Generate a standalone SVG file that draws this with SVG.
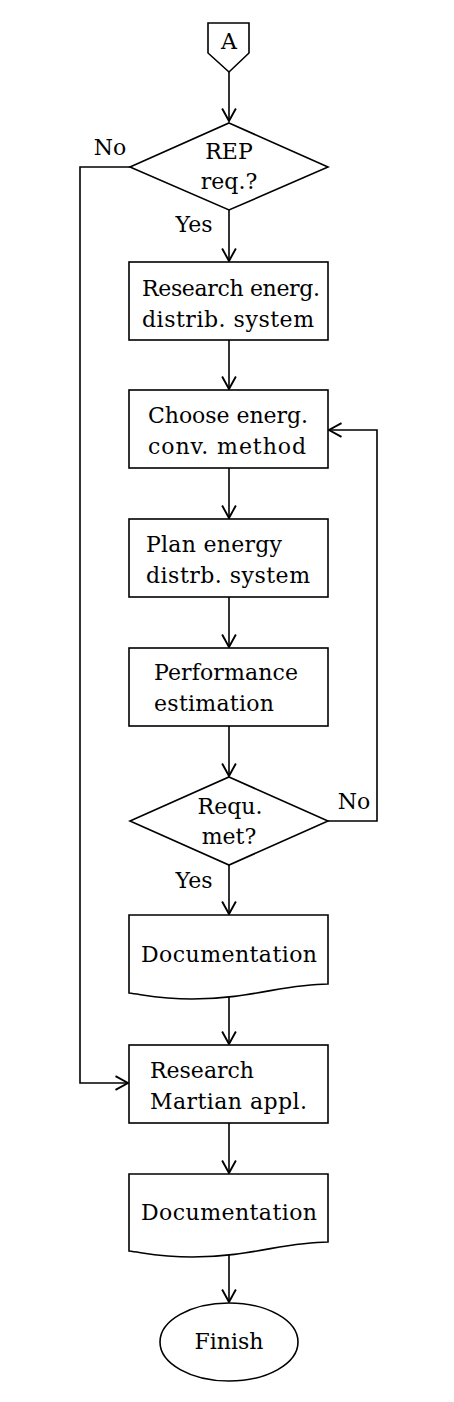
<svg xmlns="http://www.w3.org/2000/svg" width="454" height="1402" viewBox="0 0 454 1402">
<style>
.s{fill:#fff;stroke:#000;stroke-width:1.6}
.c{fill:none;stroke:#000;stroke-width:1.6}
text{font-family:"DejaVu Serif","Liberation Serif",serif;font-size:22px;fill:#000}
.m{text-anchor:middle}
</style>
<defs>
<marker id="ah" markerUnits="userSpaceOnUse" markerWidth="20" markerHeight="20" refX="0" refY="0" viewBox="-12 -8 14 16" orient="auto">
<path d="M-10,-5.5 L0,0 L-10,5.5" fill="none" stroke="#000" stroke-width="1.5"/>
</marker>
</defs>
<g id="connectors">
<path class="c" d="M229,72 V121" marker-end="url(#ah)"/>
<path class="c" d="M229,210 V261" marker-end="url(#ah)"/>
<path class="c" d="M229,340 V389" marker-end="url(#ah)"/>
<path class="c" d="M229,468 V518" marker-end="url(#ah)"/>
<path class="c" d="M229,597 V647" marker-end="url(#ah)"/>
<path class="c" d="M229,726 V776" marker-end="url(#ah)"/>
<path class="c" d="M229,865 V914" marker-end="url(#ah)"/>
<path class="c" d="M229,997 V1044" marker-end="url(#ah)"/>
<path class="c" d="M229,1123 V1173" marker-end="url(#ah)"/>
<path class="c" d="M229,1255 V1302" marker-end="url(#ah)"/>
<path class="c" d="M130,167 H80 V1083 H128" marker-end="url(#ah)"/>
<path class="c" d="M328,821 H377 V430 H329" marker-end="url(#ah)"/>
<text x="110" y="155" class="m">No</text>
<text x="194" y="232" class="m">Yes</text>
<text x="354" y="809" class="m">No</text>
<text x="194" y="888" class="m">Yes</text>
</g>
<g id="start">
<path class="s" d="M208,23 H249 V53 L229,72 L208,53 Z"/>
<text x="229" y="49" class="m" font-size="20">A</text>
</g>
<g id="rep">
<path class="s" d="M229,123 L328,167 L229,210 L130,167 Z"/>
<text x="229" y="159" class="m">REP</text>
<text x="229" y="189" class="m">req.?</text>
</g>
<g id="research-energ">
<rect class="s" x="129" y="262" width="199" height="78"/>
<text x="142" y="296" textLength="178">Research energ.</text>
<text x="142" y="327" textLength="172">distrib. system</text>
</g>
<g id="choose">
<rect class="s" x="129" y="390" width="199" height="78"/>
<text x="148" y="423" textLength="160">Choose energ.</text>
<text x="148" y="454" textLength="158">conv. method</text>
</g>
<g id="plan">
<rect class="s" x="129" y="519" width="199" height="78"/>
<text x="146" y="552" textLength="136">Plan energy</text>
<text x="146" y="583" textLength="164">distrb. system</text>
</g>
<g id="performance">
<rect class="s" x="129" y="648" width="199" height="78"/>
<text x="154" y="680" textLength="144">Performance</text>
<text x="154" y="711" textLength="120">estimation</text>
</g>
<g id="requ">
<path class="s" d="M229,777 L328,821 L229,865 L130,821 Z"/>
<text x="230" y="814" class="m">Requ.</text>
<text x="229" y="844" class="m">met?</text>
</g>
<g id="doc1">
<path class="s" d="M129,915 H328 V984 C285,984 250,999 192,999 C162,999 145,995 129,993 Z"/>
<text x="229" y="962" class="m" textLength="176">Documentation</text>
</g>
<g id="research-martian">
<rect class="s" x="129" y="1045" width="199" height="78"/>
<text x="150" y="1078" textLength="104">Research</text>
<text x="150" y="1109" textLength="157">Martian appl.</text>
</g>
<g id="doc2">
<path class="s" d="M129,1174 H328 V1242 C285,1242 250,1257 192,1257 C162,1257 145,1253 129,1251 Z"/>
<text x="229" y="1220" class="m" textLength="176">Documentation</text>
</g>
<g id="finish">
<ellipse class="s" cx="229" cy="1342" rx="69" ry="39"/>
<text x="229" y="1349" class="m">Finish</text>
</g>
</svg>
